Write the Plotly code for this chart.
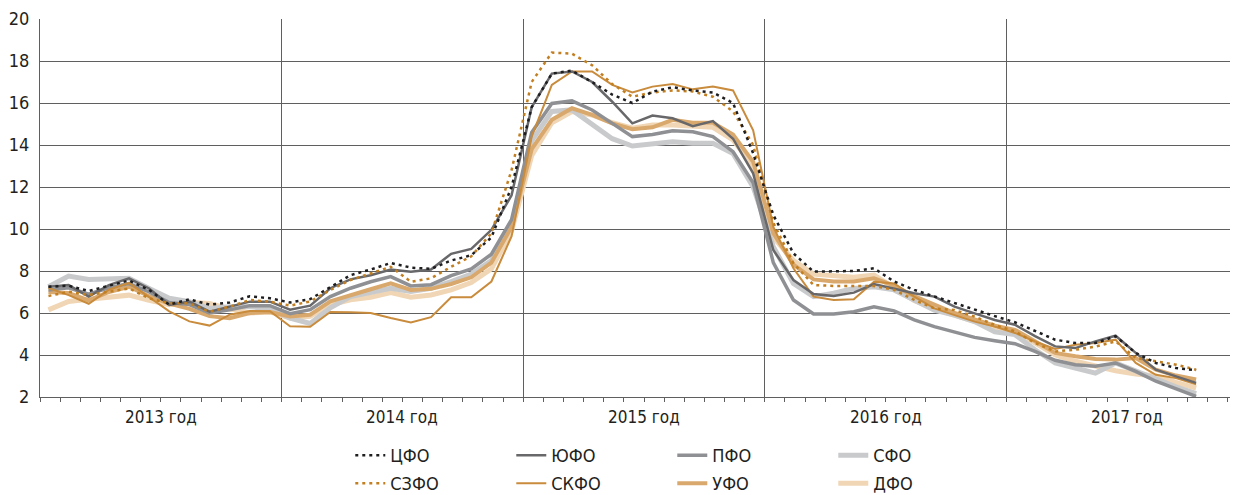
import plotly.graph_objects as go

# Months: index 0 = Jan 2013 ... 57 = Oct 2017
n_months = 58
month_pos = [k + 0.42 for k in range(n_months)]

year_labels = ["2013 год", "2014 год", "2015 год", "2016 год", "2017 год"]
y_ticks = [2, 4, 6, 8, 10, 12, 14, 16, 18, 20]

cfo = [7.25, 7.3, 7.05, 7.3, 7.55, 7.1, 6.4, 6.65, 6.4, 6.5, 6.8, 6.7,
       6.5, 6.66, 7.25, 7.8, 8.07, 8.38, 8.16, 8.1, 8.5, 8.75, 9.6, 12.0,
       15.8, 17.4, 17.54, 17.0, 16.4, 16.0, 16.54, 16.75, 16.6, 16.5, 16.0, 13.6,
       10.67, 8.84, 7.97, 7.97, 8.0, 8.13, 7.5, 7.1, 6.78, 6.46, 6.14, 5.85,
       5.56, 5.13, 4.73, 4.57, 4.57, 4.89, 4.1, 3.62, 3.38, 3.27]
szfo = [6.81, 7.01, 6.86, 7.01, 7.17, 6.7, 6.46, 6.46, 6.06, 6.3, 6.62, 6.54,
        6.35, 6.55, 7.1, 7.57, 7.88, 8.2, 7.49, 7.65, 8.2, 8.7, 9.8, 12.8,
        17.0, 18.4, 18.35, 17.8, 16.9, 16.3, 16.5, 16.6, 16.55, 16.3, 15.6, 14.0,
        10.3, 8.37, 7.33, 7.29, 7.29, 7.29, 7.1, 6.62, 6.22, 6.14, 5.83, 5.43,
        5.13, 4.57, 4.17, 4.25, 4.4, 4.65, 3.86, 3.7, 3.54, 3.3]
yufo = [7.25, 7.33, 6.78, 7.33, 7.65, 7.17, 6.38, 6.54, 6.06, 6.3, 6.54, 6.54,
        6.16, 6.35, 7.18, 7.6, 7.8, 8.07, 7.96, 8.07, 8.82, 9.05, 9.96, 11.6,
        15.8, 17.4, 17.5, 17.0, 16.06, 15.03, 15.4, 15.27, 14.9, 15.14, 14.3, 12.65,
        9.0, 7.57, 6.9, 6.81, 6.97, 7.38, 7.17, 6.94, 6.78, 6.3, 5.98, 5.67,
        5.44, 4.9, 4.41, 4.33, 4.65, 4.92, 4.1, 3.3, 2.98, 2.67]
skfo = [7.19, 6.85, 6.44, 7.11, 7.43, 6.75, 6.08, 5.6, 5.4, 5.92, 6.1, 6.08,
        5.37, 5.34, 6.05, 6.03, 6.0, 5.76, 5.55, 5.8, 6.75, 6.75, 7.5, 9.65,
        14.4, 16.86, 17.5, 17.5, 16.86, 16.5, 16.78, 16.9, 16.65, 16.78, 16.6, 14.7,
        10.1, 8.13, 6.78, 6.62, 6.65, 7.49, 7.41, 6.78, 6.22, 5.9, 5.59, 5.35,
        5.05, 4.65, 4.29, 4.49, 4.57, 4.73, 3.62, 3.06, 2.9, 2.6]
pfo = [7.1, 7.2, 6.9, 7.2, 7.4, 7.0, 6.5, 6.4, 6.0, 6.15, 6.35, 6.35,
       5.97, 6.16, 6.78, 7.18, 7.49, 7.73, 7.29, 7.35, 7.78, 8.1, 8.8, 10.45,
       14.6, 15.98, 16.1, 15.67, 15.03, 14.4, 14.5, 14.68, 14.63, 14.4, 13.68, 12.2,
       8.4, 6.62, 5.95, 5.95, 6.06, 6.3, 6.1, 5.67, 5.35, 5.11, 4.84, 4.68,
       4.54, 4.17, 3.75, 3.54, 3.46, 3.62, 3.22, 2.75, 2.38, 2.03]
ufo = [7.0, 6.95, 6.6, 7.0, 7.25, 6.8, 6.45, 6.2, 5.85, 5.75, 6.0, 6.05,
       5.84, 5.92, 6.55, 6.82, 7.13, 7.41, 7.1, 7.15, 7.38, 7.7, 8.4, 10.1,
       13.8, 15.2, 15.75, 15.43, 15.03, 14.75, 14.84, 15.2, 15.06, 15.06, 14.5, 13.2,
       9.8, 8.3, 7.6, 7.5, 7.5, 7.65, 7.3, 6.8, 6.4, 6.0, 5.7, 5.4,
       5.2, 4.65, 4.1, 3.94, 3.81, 3.78, 3.86, 3.3, 3.02, 2.83]
sfo = [7.25, 7.76, 7.6, 7.6, 7.65, 7.17, 6.7, 6.54, 6.22, 6.3, 6.3, 6.2,
       5.75, 5.5, 6.25, 6.78, 6.97, 7.18, 7.02, 7.18, 7.5, 7.85, 8.5, 10.2,
       14.2, 15.6, 15.67, 14.95, 14.3, 13.95, 14.08, 14.16, 14.08, 14.08, 13.6, 12.0,
       9.16, 7.41, 6.78, 6.94, 7.17, 7.25, 7.1, 6.62, 6.14, 5.9, 5.59, 5.1,
       4.97, 4.25, 3.62, 3.38, 3.14, 3.62, 3.22, 2.83, 2.48, 2.16]
dfo = [6.15, 6.55, 6.65, 6.75, 6.85, 6.6, 6.4, 6.5, 6.45, 6.2, 6.0, 6.05,
       5.76, 5.84, 6.39, 6.63, 6.75, 6.97, 6.75, 6.86, 7.1, 7.45, 8.1, 9.9,
       13.5, 15.06, 15.59, 15.43, 15.06, 14.8, 14.95, 14.95, 14.87, 14.84, 14.24, 13.0,
       9.6, 8.5, 7.85, 7.75, 7.7, 7.8, 7.2, 6.6, 6.2, 5.9, 5.6, 5.3,
       5.15, 4.6, 4.0, 3.7, 3.45, 3.25, 3.1, 3.0, 2.7, 2.43]

FONT = "Liberation Sans Narrow, DejaVu Sans Condensed, Roboto, sans-serif"

# (name, values, color, width, dash, legend, rank) in drawing order
series = [
    ("ДФО", dfo, "#f0d6b4", 5, "solid", "legend2", 4),
    ("СФО", sfo, "#c9cacc", 5, "solid", "legend", 4),
    ("УФО", ufo, "#d9a86c", 4, "solid", "legend2", 3),
    ("ПФО", pfo, "#8f9093", 3.5, "solid", "legend", 3),
    ("СКФО", skfo, "#c98b3c", 2, "solid", "legend2", 2),
    ("ЮФО", yufo, "#68686b", 2.5, "solid", "legend", 2),
    ("СЗФО", szfo, "#c27f22", 2.5, "3px,4px", "legend2", 1),
    ("ЦФО", cfo, "#1e1e20", 2.5, "3px,4px", "legend", 1),
]

fig = go.Figure()
for name, vals, color, width, dash, leg, rank in series:
    fig.add_trace(go.Scatter(
        x=month_pos, y=vals, name=name, mode="lines",
        line=dict(color=color, width=width, dash=dash),
        legend=leg, legendrank=rank, hoverinfo="skip",
    ))

grid_col = "#5f5f5f"
leg_common = dict(orientation="h", x=0.259, xanchor="left",
                  entrywidth=116, entrywidthmode="pixels", itemwidth=30,
                  font=dict(family=FONT, size=18, color="#231f20"),
                  traceorder="normal", bgcolor="rgba(0,0,0,0)", borderwidth=0)
# The page body adds an 8px offset, so the figure is 1230x487
fig.update_layout(
    width=1230, height=487,
    margin=dict(l=32, r=0, t=11, b=98, autoexpand=False),
    paper_bgcolor="white", plot_bgcolor="white",
    font=dict(family=FONT, size=17, color="#231f20"),
    showlegend=True,
    legend=dict(y=-0.155, yanchor="middle", **leg_common),
    legend2=dict(y=-0.2778, yanchor="bottom", **leg_common),
)

fig.update_xaxes(
    range=[0, 59.5], automargin=False,
    tickvals=[0, 12, 24, 36, 48], ticktext=["", "", "", "", ""],
    showgrid=True, gridcolor=grid_col, gridwidth=1.3,
    ticks="outside", ticklen=4, tickcolor=grid_col,
    minor=dict(dtick=1, tick0=0, ticks="outside", ticklen=4, tickcolor=grid_col, showgrid=False),
    showline=True, linecolor=grid_col, linewidth=1.3,
    zeroline=False, fixedrange=True,
)
fig.update_yaxes(
    range=[2, 20], tickvals=y_ticks, automargin=False,
    showgrid=True, gridcolor=grid_col, gridwidth=1.3,
    showline=True, linecolor=grid_col, linewidth=1.3,
    ticks="", ticklabelstandoff=6,
    tickfont=dict(family=FONT, size=18, color="#231f20"),
    zeroline=False, fixedrange=True,
)

for i, lab in enumerate(year_labels):
    fig.add_annotation(x=6 + 12 * i, y=-0.053, xref="x", yref="paper",
                       text=lab, showarrow=False, yanchor="middle",
                       font=dict(family=FONT, size=17, color="#231f20"))

fig.write_html("out.html")
